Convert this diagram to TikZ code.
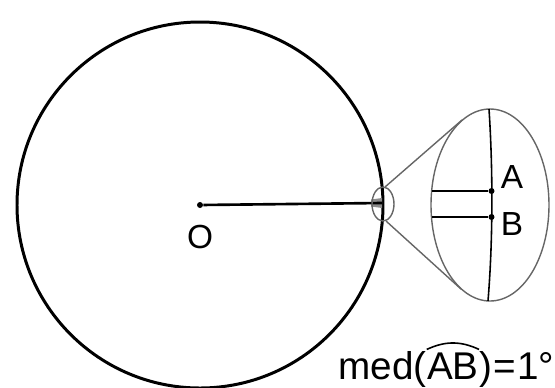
\documentclass[tikz,border=0pt]{standalone}
\usepackage{fontspec}
\setmainfont{Liberation Sans}
\usetikzlibrary{positioning}
\begin{document}
\begin{tikzpicture}[
  x=0.02cm, y=-0.02cm,
  pt/.style={circle, fill=black, inner sep=0pt, minimum size=0.12cm},
  lab/.style={inner sep=0pt, font=\fontsize{19}{22}\selectfont},
  big/.style={inner sep=0pt, font=\fontsize{22}{26}\selectfont},
  guide/.style={draw=black!60, line width=0.8pt}
]
\useasboundingbox (0,0) rectangle (555,387);

% =======================
% Circle and radius
% =======================
\node[pt] (O) at (200,205) {};
\draw[line width=1.7pt] (O) circle [radius=183];
\coordinate (R) at (382,203);
\fill[black!45] (371,199.5) -- (382,198) -- (382,208) -- (371,206.5) -- cycle;
\draw[line width=1.5pt] (O) -- (R);
\node[lab] (labO) at (200,237) {O};

% =======================
% Zoom window
% =======================
\draw[guide] (383,204) ellipse [x radius=11, y radius=17];
\coordinate (zt) at (385,187);
\coordinate (zb) at (386,221);

\draw[guide] (490,205) ellipse [x radius=59, y radius=96];
\coordinate (lt) at (462,120);
\coordinate (lb) at (461,289);

\draw[guide] (zt) -- (lt);
\draw[guide] (zb) -- (lb);

% magnified arc of the circle
\draw[line width=0.9pt] (489,109) .. controls (493,170) and (493,240) .. (488,301);

% points A and B
\node[pt] (A) at (491.5,191) {};
\node[pt] (B) at (491.5,217) {};
\coordinate (hA) at (432,191);
\coordinate (hB) at (432,217);
\draw[line width=0.9pt] (hA) -- (A);
\draw[line width=0.9pt] (hB) -- (B);

\node[lab] (labA) at (512,177) {A};
\node[lab] (labB) at (512,224) {B};

% =======================
% Measure of the arc
% =======================
\node[big, anchor=base west] (medL) at (338,379) {med(};
\node[big, base right=0pt of medL] (arcAB) {AB};
\node[big, base right=0pt of arcAB] (medR) {)\kern0.7pt=\kern0.7pt1°};
\draw[line width=0.9pt] ([yshift=1.5pt]arcAB.north west) to[bend left=25] ([yshift=1.5pt]arcAB.north east);

\end{tikzpicture}
\end{document}
